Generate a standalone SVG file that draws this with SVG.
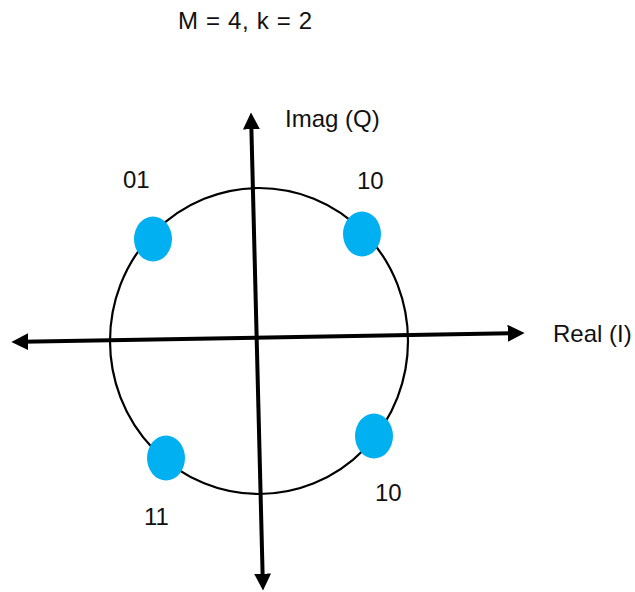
<svg xmlns="http://www.w3.org/2000/svg" width="635" height="592" viewBox="0 0 635 592">
<style>
.lbl{font-family:"Liberation Sans","Open Sans",Arial,sans-serif;font-size:24px;fill:#111}
.axis{stroke:#000;stroke-width:4;fill:none}
.dot{fill:#00B0F0}
</style>
<defs>
<marker id="ah" markerUnits="userSpaceOnUse" markerWidth="17" markerHeight="17" viewBox="0 0 16 16" refX="6" refY="8" orient="auto-start-reverse">
<path d="M0,0 L16,8 L0,16 z" fill="#000"/>
</marker>
</defs>
<rect width="635" height="592" fill="#fff"/>
<text class="lbl" x="178" y="29" textLength="134" lengthAdjust="spacing">M = 4, k = 2</text>
<g id="circle">
<ellipse cx="259" cy="341" rx="149" ry="153" fill="none" stroke="#000" stroke-width="2.2"/>
</g>
<g id="connectors">
<line class="axis" x1="22" y1="341.8" x2="514" y2="333.2" marker-start="url(#ah)" marker-end="url(#ah)"/>
<line class="axis" x1="251.25" y1="123" x2="262.75" y2="580" marker-start="url(#ah)" marker-end="url(#ah)"/>
</g>
<g id="axis-labels">
<text class="lbl" x="285" y="127">Imag (Q)</text>
<text class="lbl" x="553" y="342">Real (I)</text>
</g>
<g id="p01">
<ellipse class="dot" cx="153" cy="239" rx="19" ry="22.5"/>
<text class="lbl" x="123" y="188">01</text>
</g>
<g id="p10top">
<ellipse class="dot" cx="362" cy="234" rx="19" ry="22.5"/>
<text class="lbl" x="357" y="189">10</text>
</g>
<g id="p11">
<ellipse class="dot" cx="166" cy="458" rx="19" ry="22.5"/>
<text class="lbl" x="144" y="525">11</text>
</g>
<g id="p10bot">
<ellipse class="dot" cx="374" cy="436" rx="19" ry="22.5"/>
<text class="lbl" x="375" y="501">10</text>
</g>
</svg>
